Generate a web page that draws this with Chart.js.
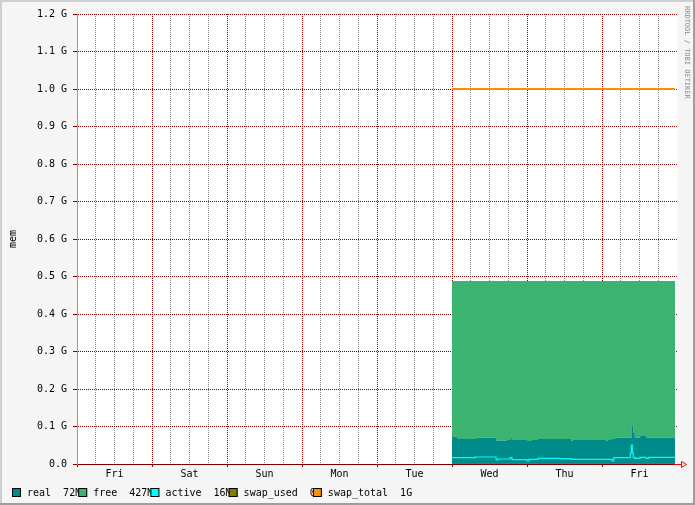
<!DOCTYPE html>
<html><head><meta charset="utf-8">
<script src="https://cdn.jsdelivr.net/npm/chart.js@4.4.0/dist/chart.umd.min.js"></script>
<style>html,body{margin:0;padding:0;background:#f5f5f5}canvas{display:block}</style>
</head><body>
<canvas id="c" width="695" height="505"></canvas>
<script>
// ---- data (hours since Fri 00:00; values in MB) ----
const dayLabels = ['Fri','Sat','Sun','Mon','Tue','Wed','Thu','Fri'];
const memHours = [120, 121.6, 128, 134.1, 137.6, 138.9, 139.2, 144, 145.6, 147.5, 158.1, 158.7, 169.3, 169.9, 171.2, 172.2, 177.4, 177.7, 178.1, 178.5, 180.2, 182.1, 191.4];
const realMB   = [74.5, 68.3, 71.8, 63.6, 65.5, 71.8, 65.5, 62.8, 65.5, 68.3, 63.6, 65.5, 63.6, 65.5, 68.3, 71.8, 100, 114, 85, 71.8, 76.5, 72.5, 72.5];
const freeMB   = [425, 431.2, 427.7, 435.9, 434, 427.7, 434, 436.7, 434, 431.2, 435.9, 434, 435.9, 434, 431.2, 427.7, 399.5, 385.5, 414.5, 427.7, 423, 427, 427];
const activeHours = [120, 127.4, 134.1, 134.7, 138.6, 139.2, 144, 144.6, 147.5, 154.6, 158.1, 171.2, 171.8, 177.1, 177.4, 177.7, 178.0, 178.6, 180.2, 182.1, 183, 191.4];
const activeMB    = [17.2, 19.1, 10.9, 13.7, 17.2, 11.7, 8.2, 12.8, 15.6, 14.5, 12.8, 8.2, 17.2, 30, 51.9, 30, 17.2, 15.6, 18.3, 15.6, 18.3, 18.3];
const swapHours   = [120, 191.4];
const swapUsedMB  = [0, 0];
const swapTotalMB = [1024, 1024];
const legendNames  = ['real', 'free', 'active', 'swap_used', 'swap_total'];
const legendValues = ['72M', '427M', '16M', '0', '1G'];

// ---- styles ----
const COLORS = ['#008b8b', '#3cb371', '#00ffff', '#808000', '#ff8c00'];
const FONT = {family: "'DejaVu Sans Mono', monospace", size: 10};
const toPts = (hs, vs) => hs.map((h, i) => ({x: h, y: vs[i] / 1024}));

const decor = {
  id: 'decor',
  beforeDraw(chart) {
    const {ctx, chartArea: a} = chart;
    ctx.save();
    ctx.fillStyle = '#f5f5f5';
    ctx.fillRect(0, 0, chart.width, chart.height);
    ctx.fillStyle = '#ffffff';
    ctx.fillRect(a.left, a.top, a.right - a.left, a.bottom - a.top);
    ctx.restore();
  },
  afterDraw(chart) {
    const {ctx, chartArea: a} = chart;
    const W = chart.width, H = chart.height;
    ctx.save();
    // frame
    ctx.fillStyle = '#cfcfcf';
    ctx.fillRect(0, 0, W, 2); ctx.fillRect(0, 0, 2, H);
    ctx.fillStyle = '#9e9e9e';
    ctx.fillRect(0, H - 2, W, 2); ctx.fillRect(W - 2, 0, 2, H);
    // x-axis arrow
    const y = Math.round(a.bottom) + 0.5, x = Math.round(a.right);
    ctx.strokeStyle = '#ff0000'; ctx.lineWidth = 1;
    ctx.beginPath(); ctx.moveTo(x - 3, y); ctx.lineTo(x + 4, y); ctx.stroke();
    ctx.beginPath(); ctx.moveTo(x + 4.5, y - 3); ctx.lineTo(x + 9.5, y); ctx.lineTo(x + 4.5, y + 3); ctx.closePath(); ctx.stroke();
    // watermark
    ctx.save();
    ctx.translate(687, 6);
    ctx.rotate(Math.PI / 2);
    ctx.font = "7px 'DejaVu Sans Mono', monospace";
    ctx.fillStyle = '#8c8c8c';
    ctx.textBaseline = 'middle';
    ctx.fillText('RRDTOOL / TOBI OETIKER', 0, 0);
    ctx.restore();
    // legend
    ctx.font = "10px 'DejaVu Sans Mono', monospace";
    ctx.textBaseline = 'alphabetic';
    let lx = 12;
    legendNames.forEach((n, i) => {
      ctx.fillStyle = COLORS[i];
      ctx.fillRect(lx, 488, 9, 9);
      ctx.strokeStyle = '#000'; ctx.lineWidth = 1;
      ctx.strokeRect(lx + 0.5, 488.5, 8, 8);
      const txt = n + '  ' + legendValues[i];
      ctx.fillStyle = '#000';
      const tx = lx + 15;
      ctx.fillText(txt, tx, 496);
      lx = tx + ctx.measureText(txt).width - 3;
    });
    ctx.restore();
  }
};

new Chart(document.getElementById('c'), {
  type: 'line',
  data: {
    datasets: [
      {label: 'real', data: toPts(memHours, realMB), stack: 'mem', order: 3, fill: 'origin',
       backgroundColor: COLORS[0], borderColor: COLORS[0], borderWidth: 0, stepped: 'before', pointRadius: 0},
      {label: 'free', data: toPts(memHours, freeMB), stack: 'mem', order: 4, fill: '-1',
       backgroundColor: COLORS[1], borderColor: COLORS[1], borderWidth: 0, stepped: 'before', pointRadius: 0},
      {label: 'active', data: toPts(activeHours, activeMB), stack: 'act', order: 2, fill: false,
       borderColor: COLORS[2], borderWidth: 1.2, stepped: 'before', pointRadius: 0},
      {label: 'swap_used', data: toPts(swapHours, swapUsedMB), stack: 'su', order: 1, fill: false,
       borderColor: COLORS[3], borderWidth: 1, pointRadius: 0},
      {label: 'swap_total', data: toPts(swapHours, swapTotalMB), stack: 'st', order: 0, fill: false,
       borderColor: COLORS[4], borderWidth: 2, pointRadius: 0}
    ]
  },
  options: {
    responsive: false, animation: false, devicePixelRatio: 1,
    layout: {padding: {left: 0, top: 14, right: 18, bottom: 0}},
    plugins: {legend: {display: false}, tooltip: {enabled: false}},
    scales: {
      x: {
        type: 'linear', min: 0, max: 192, z: 1,
        afterFit: s => { s.height = 41; },
        ticks: {stepSize: 6, autoSkip: false, maxRotation: 0, minRotation: 0, font: FONT, color: '#000', padding: 1,
          callback: v => (v % 24 === 12) ? dayLabels[(v - 12) / 24] : ''},
        grid: {
          color: c => (c.tick.value === 192) ? 'rgba(0,0,0,0)' : (c.tick.value % 24 === 0 ? '#990000' : '#8a8a8a'),
          lineWidth: 1, tickLength: 3,
          tickColor: c => (c.tick.value % 24 === 0 && c.tick.value !== 192) ? '#990000' : 'rgba(0,0,0,0)',
          tickBorderDash: []
        },
        border: {display: true, color: '#800000', width: 1, dash: [1, 1]}
      },
      y: {
        type: 'linear', min: 0, max: 1.2, z: 1, stacked: true,
        afterFit: s => { s.width = 77; },
        ticks: {stepSize: 0.1, font: FONT, color: '#000', padding: 6,
          callback: v => (Math.abs(v) < 1e-9) ? '0.0' : v.toFixed(1) + ' G'},
        grid: {color: '#800000', lineWidth: 1, tickLength: 4, tickColor: '#800000', tickBorderDash: []},
        border: {display: true, color: '#9a9a9a', width: 1, dash: [1, 1]},
        title: {display: true, text: 'mem', font: FONT, color: '#000', padding: {top: 7, bottom: 0}}
      }
    }
  },
  plugins: [decor]
});
</script>
</body></html>
